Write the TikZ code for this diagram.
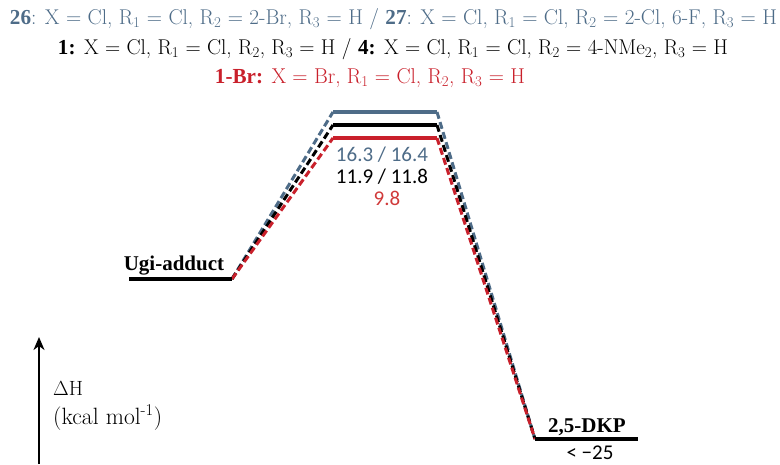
\documentclass[tikz,border=0pt]{standalone}
\usepackage{fontspec}
\usepackage{graphicx}
\setmainfont{Latin Modern Roman}
\newfontfamily\tms{Liberation Serif}
\newfontfamily\calib{Carlito}
\usetikzlibrary{arrows.meta}
\definecolor{tsblue}{HTML}{4E6C88}
\definecolor{tsred}{HTML}{C9202B}
\definecolor{labred}{HTML}{D03A3A}
\newcommand{\sbs}[1]{\textsubscript{#1}}
\newcommand{\tb}[1]{{\tms\bfseries #1}}
\begin{document}
\begin{tikzpicture}[x=1pt,y=-1pt,
  titletext/.style={inner sep=0pt, anchor=base, font=\fontsize{21}{25}\selectfont},
  numlabel/.style={inner sep=0pt, font=\calib\fontsize{21}{24}\selectfont},
  statelabel/.style={inner sep=0pt, anchor=base, font=\tms\bfseries\fontsize{21}{24}\selectfont},
  axislabel/.style={inner sep=0pt, anchor=base west, font=\fontsize{21}{24}\selectfont},
  level/.style={line width=4pt},
  conn/.style={line width=3pt, dash pattern=on 7pt off 3.5pt},
  axis/.style={line width=2.5pt, -{Stealth[length=13pt,width=11pt,inset=4pt]}}]
\useasboundingbox (0,0) rectangle (780,464);

% titles
\node[titletext, text=tsblue] (t1) at (393.5,24) {\resizebox{767pt}{16pt}{\tb{26}: X = Cl, R\sbs{1} = Cl, R\sbs{2} = 2-Br, R\sbs{3} = H / \tb{27}: X = Cl, R\sbs{1} = Cl, R\sbs{2} = 2-Cl, 6-F, R\sbs{3} = H}};
\node[titletext, text=black] (t2) at (393,54) {\resizebox{670pt}{16pt}{\tb{1:} X = Cl, R\sbs{1} = Cl, R\sbs{2}, R\sbs{3} = H / \tb{4:} X = Cl, R\sbs{1} = Cl, R\sbs{2} = 4-NMe\sbs{2}, R\sbs{3} = H}};
\node[titletext, text=tsred] (t3) at (370,83) {\resizebox{310pt}{15pt}{\tb{1-Br:} X = Br, R\sbs{1} = Cl, R\sbs{2}, R\sbs{3} = H}};

% level coordinates
\coordinate (ugiL) at (129,279);
\coordinate (ugiR) at (232,279);
\coordinate (tsbL) at (333,112);
\coordinate (tsbR) at (437,112);
\coordinate (tskL) at (333,125);
\coordinate (tskR) at (437,125);
\coordinate (tsrL) at (333,138);
\coordinate (tsrR) at (437,138);
\coordinate (dkpL) at (535,439);
\coordinate (dkpR) at (638,439);

% dashed connectors
\draw[conn, tsblue] (ugiR) -- (tsbL);
\draw[conn, black] (ugiR) -- (tskL);
\draw[conn, tsred] (ugiR) -- (tsrL);
\draw[conn, tsblue] (tsbR) -- (dkpL);
\draw[conn, black] (tskR) -- (dkpL);
\draw[conn, tsred] (tsrR) -- (dkpL);

% levels
\draw[level, black, line width=3.5pt] (ugiL) -- (ugiR);
\draw[level, tsblue] (tsbL) -- (tsbR);
\draw[level, black] (tskL) -- (tskR);
\draw[level, tsred] (tsrL) -- (tsrR);
\draw[level, black, line width=3.5pt] (dkpL) -- (dkpR);

% labels
\node[numlabel, text=tsblue] (lb) at (382,155) {16.3 / 16.4};
\node[numlabel, text=black] (lk) at (382,177) {11.9 / 11.8};
\node[numlabel, text=labred] (lr) at (387,198) {9.8};
\node[statelabel] (ugi) at (174,270) {Ugi-adduct};
\node[statelabel] (dkp) at (587,432) {2,5-DKP};
\node[numlabel] (dkpv) at (590,453) {< −25};

% axis
\coordinate (axb) at (39,464);
\coordinate (axt) at (39,337);
\draw[axis] (axb) -- (axt);
\node[axislabel] (dh) at (53,395) {\resizebox{30pt}{!}{$\Delta$H}};
\node[axislabel] (unit) at (53,424) {\resizebox{109pt}{!}{(kcal mol\textsuperscript{-1})}};
\end{tikzpicture}
\end{document}
